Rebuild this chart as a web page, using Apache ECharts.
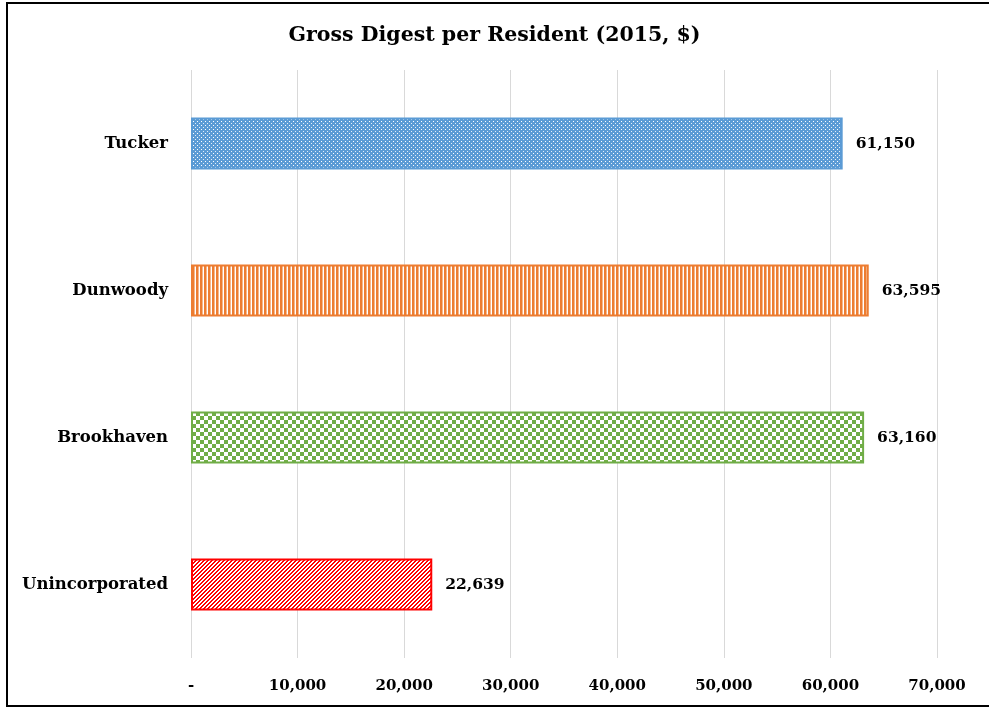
<!DOCTYPE html>
<html>
<head>
<meta charset="utf-8">
<script src="https://cdn.jsdelivr.net/npm/echarts@6/dist/echarts.min.js"></script>
<style>
    html, body { margin: 0; padding: 0; background: #fff; overflow: hidden; width: 989px; height: 708px; }
    #frame {
        position: absolute; left: 6px; top: 2px; width: 990px; height: 701px;
        border-left: 2px solid #000; border-top: 2px solid #000; border-bottom: 2px solid #000;
    }
    #chart { position: absolute; left: 0; top: 0; width: 989px; height: 708px; }
</style>
</head>
<body>
<div id="frame"></div>
<div id="chart"></div>
<script>
    // 数据
    var categories = ['Unincorporated', 'Brookhaven', 'Dunwoody', 'Tucker'];
    var values = [22639, 63160, 63595, 61150];
    var xTicks = [0, 10000, 20000, 30000, 40000, 50000, 60000, 70000];

    var serif = '"DejaVu Serif", "Liberation Serif", serif';

    // 填充图案
    function makeTile(w, h, draw) {
        var c = document.createElement('canvas');
        c.width = w; c.height = h;
        draw(c.getContext('2d'));
        return c;
    }
    var dotsBlue = makeTile(4, 4, function (g) {
        g.fillStyle = '#5b9bd5'; g.fillRect(0, 0, 4, 4);
        g.fillStyle = '#ffffff'; g.fillRect(1, 1, 1, 1);
        g.fillStyle = '#e4eef8'; g.fillRect(3, 3, 1, 1);
    });
    var stripesOrange = makeTile(4, 4, function (g) {
        g.fillStyle = '#ffffff'; g.fillRect(0, 0, 4, 4);
        g.fillStyle = '#ed7d31'; g.fillRect(0, 0, 2, 4);
        g.fillStyle = '#f6b78c'; g.fillRect(2, 0, 1, 4);
    });
    var checkerGreen = makeTile(8, 8, function (g) {
        g.fillStyle = '#ffffff'; g.fillRect(0, 0, 8, 8);
        g.fillStyle = '#70ad47'; g.fillRect(0, 0, 4, 4); g.fillRect(4, 4, 4, 4);
    });
    var diagRed = makeTile(4, 4, function (g) {
        g.fillStyle = '#ffffff'; g.fillRect(0, 0, 4, 4);
        g.fillStyle = '#ff0000';
        for (var i = 0; i < 4; i++) {
            g.fillRect(i, 3 - i, 1, 1);
            g.fillRect((i + 1) % 4, 3 - i, 1, 1);
        }
    });
    var patterns = [diagRed, checkerGreen, stripesOrange, dotsBlue];
    var borders = ['#ff0000', '#70ad47', '#ed7d31', '#5b9bd5'];

    var seriesData = values.map(function (v, i) {
        return {
            value: v,
            itemStyle: {
                color: {image: patterns[i], repeat: 'repeat'},
                borderColor: borders[i],
                borderWidth: 2
            }
        };
    });

    var chart = echarts.init(document.getElementById('chart'));
    chart.setOption({
        animation: false,
        title: {
            text: 'Gross Digest per Resident (2015, $)',
            left: 'center',
            top: 20,
            textStyle: {fontFamily: serif, fontSize: 20.5, fontWeight: 'bold', color: '#000'}
        },
        grid: {left: 191, right: 52, top: 70, bottom: 50},
        xAxis: {
            type: 'value',
            min: xTicks[0],
            max: xTicks[xTicks.length - 1],
            interval: 10000,
            axisLine: {show: false},
            axisTick: {show: false},
            splitLine: {lineStyle: {color: '#d9d9d9', width: 1}},
            axisLabel: {
                margin: 21,
                fontFamily: serif, fontSize: 15, fontWeight: 'bold', color: '#000',
                formatter: function (v) { return v === 0 ? '-' : v.toLocaleString('en-US'); }
            }
        },
        yAxis: {
            type: 'category',
            data: categories,
            axisLine: {show: false},
            axisTick: {show: false},
            axisLabel: {
                margin: 23,
                fontFamily: serif, fontSize: 16.5, fontWeight: 'bold', color: '#000'
            }
        },
        series: [{
            type: 'bar',
            data: seriesData,
            barWidth: 52,
            label: {
                show: true,
                position: 'right',
                distance: 13,
                fontFamily: serif, fontSize: 15.5, fontWeight: 'bold', color: '#000',
                formatter: function (p) { return p.value.toLocaleString('en-US'); }
            }
        }]
    });
</script>
</body>
</html>
